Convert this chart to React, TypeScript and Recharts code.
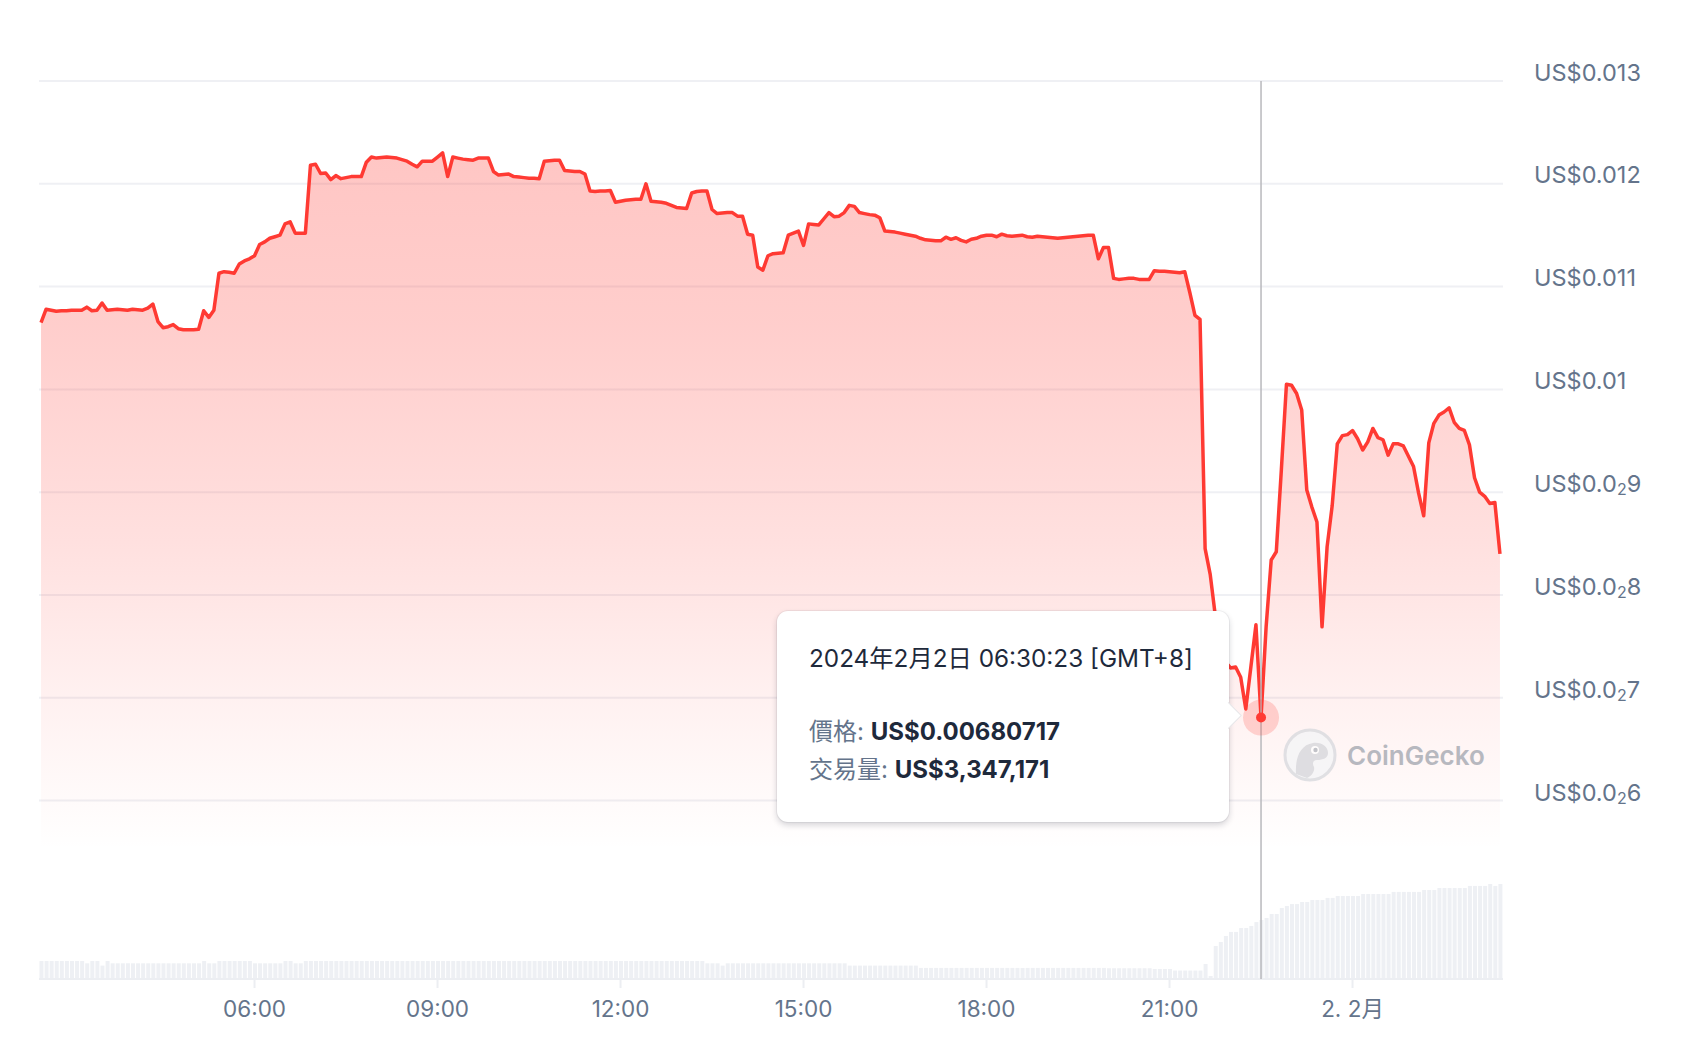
import React from 'react';
import {
  ComposedChart,
  Area,
  Bar,
  XAxis,
  YAxis,
  CartesianGrid,
  Tooltip,
} from 'recharts';

// 5-minute steps, 02:30 -> 02:25 next day (index = step number)
const prices = [
  0.01065, 0.01078, 0.01077, 0.01076, 0.010765, 0.010765, 0.01077, 0.01077, 0.01077, 0.0108, 0.010765, 0.01077,
  0.01084, 0.01077, 0.010775, 0.01078, 0.010775, 0.01077, 0.01078, 0.010775, 0.01077, 0.01079, 0.01083, 0.01066,
  0.0106, 0.01061, 0.01063, 0.01059, 0.01058, 0.01058, 0.01058, 0.010585, 0.010765, 0.0107, 0.01077, 0.01113,
  0.011145, 0.01114, 0.01113, 0.01122, 0.01125, 0.01127, 0.0113, 0.01141, 0.011435, 0.01147, 0.011485, 0.0115,
  0.01161, 0.01163, 0.01152, 0.01152, 0.01152, 0.01218, 0.01219, 0.0121, 0.012105, 0.01204, 0.01208, 0.01205,
  0.01206, 0.01207, 0.01207, 0.01207, 0.01221, 0.01226, 0.01225, 0.012255, 0.01226, 0.012255, 0.01225, 0.012235,
  0.01222, 0.01219, 0.012165, 0.01222, 0.01222, 0.01222, 0.01226, 0.0123, 0.01207, 0.01226, 0.01225, 0.01224,
  0.012235, 0.01223, 0.01225, 0.01225, 0.01225, 0.01212, 0.012085, 0.01209, 0.012095, 0.01207, 0.012065, 0.01206,
  0.012055, 0.012055, 0.01205, 0.01222, 0.012225, 0.01223, 0.01223, 0.01213, 0.012125, 0.01212, 0.01212, 0.012095,
  0.01193, 0.011925, 0.01193, 0.01193, 0.011935, 0.01182, 0.01183, 0.01184, 0.011845, 0.01185, 0.01185, 0.012,
  0.01183, 0.011825, 0.01182, 0.01181, 0.01179, 0.01177, 0.011765, 0.01176, 0.01191, 0.011925, 0.01193, 0.01193,
  0.01175, 0.01171, 0.011715, 0.01172, 0.01172, 0.011685, 0.011685, 0.01151, 0.0115, 0.01119, 0.01116, 0.0113,
  0.01132, 0.011325, 0.01133, 0.0115, 0.01152, 0.01154, 0.0114, 0.01161, 0.011605, 0.0116, 0.01166, 0.01172,
  0.01168, 0.011685, 0.01172, 0.01179, 0.01178, 0.01172, 0.01171, 0.0117, 0.011695, 0.01167, 0.01154, 0.011535,
  0.01153, 0.01152, 0.01151, 0.0115, 0.01149, 0.01147, 0.011455, 0.01145, 0.011445, 0.011445, 0.01148, 0.01146,
  0.011475, 0.01145, 0.011435, 0.01146, 0.01147, 0.01149, 0.0115, 0.0115, 0.011485, 0.01151, 0.011495, 0.01149,
  0.011495, 0.0115, 0.011485, 0.01148, 0.01149, 0.011485, 0.01148, 0.011475, 0.01147, 0.011475, 0.01148, 0.011485,
  0.01149, 0.011495, 0.0115, 0.0115, 0.01127, 0.01138, 0.01138, 0.01108, 0.01107, 0.011075, 0.01108, 0.01108,
  0.01107, 0.01107, 0.01107, 0.011155, 0.01115, 0.01115, 0.011145, 0.01114, 0.011135, 0.011145, 0.01094, 0.01072,
  0.01068, 0.00845, 0.0082, 0.0078, 0.00755, 0.00735, 0.00729, 0.0073, 0.0072, 0.00689, 0.0073, 0.00771,
  0.00680717, 0.00769, 0.00834, 0.00842, 0.00922, 0.01005, 0.01004, 0.00996, 0.0098, 0.00902, 0.008855, 0.00871,
  0.00769, 0.00847, 0.00887, 0.00947, 0.00955, 0.00956, 0.0096, 0.00952, 0.00941, 0.00949, 0.00962, 0.00953,
  0.00951, 0.00936, 0.00947, 0.00947, 0.00945, 0.00935, 0.00925, 0.00899, 0.00877, 0.00948, 0.00967, 0.00975,
  0.00978, 0.00982, 0.00968, 0.00962, 0.0096, 0.00946, 0.00914, 0.009, 0.00896, 0.00889, 0.0089, 0.0084,
];

// volume in millions of USD
const volumes = [
  1.02, 1.02, 1.02, 1.02, 1.02, 1.02, 1.02, 1.02, 1.02, 0.89, 1.02, 1.02,
  0.76, 1.02, 0.89, 0.89, 0.89, 0.89, 0.89, 0.89, 0.89, 0.89, 0.89, 0.89,
  0.89, 0.89, 0.89, 0.89, 0.89, 0.89, 0.89, 0.89, 1.02, 0.89, 0.89, 1.02,
  1.02, 1.02, 1.02, 1.02, 1.02, 1.02, 0.89, 0.89, 0.89, 0.89, 0.89, 0.89,
  1.02, 1.02, 0.89, 0.89, 1.02, 1.02, 1.02, 1.02, 1.02, 1.02, 1.02, 1.02,
  1.02, 1.02, 1.02, 1.02, 1.02, 1.02, 1.02, 1.02, 1.02, 1.02, 1.02, 1.02,
  1.02, 1.02, 1.02, 1.02, 1.02, 1.02, 1.02, 1.02, 1.02, 1.02, 1.02, 1.02,
  1.02, 1.02, 1.02, 1.02, 1.02, 1.02, 1.02, 1.02, 1.02, 1.02, 1.02, 1.02,
  1.02, 1.02, 1.02, 1.02, 1.02, 1.02, 1.02, 1.02, 1.02, 1.02, 1.02, 1.02,
  1.02, 1.02, 1.02, 1.02, 1.02, 1.02, 1.02, 1.02, 1.02, 1.02, 1.02, 1.02,
  1.02, 1.02, 1.02, 1.02, 1.02, 1.02, 1.02, 1.02, 1.02, 1.02, 1.02, 0.89,
  0.89, 0.89, 0.76, 0.89, 0.89, 0.89, 0.89, 0.89, 0.89, 0.89, 0.89, 0.89,
  0.89, 0.89, 0.89, 0.89, 0.89, 0.89, 0.89, 0.89, 0.89, 0.89, 0.89, 0.89,
  0.89, 0.89, 0.89, 0.76, 0.76, 0.76, 0.76, 0.76, 0.76, 0.76, 0.76, 0.76,
  0.76, 0.76, 0.76, 0.76, 0.76, 0.63, 0.63, 0.63, 0.63, 0.63, 0.63, 0.63,
  0.63, 0.63, 0.63, 0.63, 0.63, 0.63, 0.63, 0.63, 0.63, 0.63, 0.63, 0.63,
  0.63, 0.63, 0.63, 0.63, 0.63, 0.63, 0.63, 0.63, 0.63, 0.63, 0.63, 0.63,
  0.63, 0.63, 0.63, 0.63, 0.63, 0.63, 0.61, 0.61, 0.61, 0.61, 0.61, 0.61,
  0.61, 0.61, 0.61, 0.57, 0.57, 0.57, 0.57, 0.48, 0.48, 0.48, 0.48, 0.48,
  0.48, 0.85, 0.17, 1.87, 2.1, 2.44, 2.67, 2.67, 2.89, 2.89, 3.01, 3.23,
  3.347171, 3.46, 3.69, 3.69, 4.03, 4.14, 4.25, 4.25, 4.37, 4.37, 4.48, 4.48,
  4.48, 4.6, 4.6, 4.71, 4.71, 4.71, 4.71, 4.71, 4.82, 4.82, 4.82, 4.82,
  4.82, 4.82, 4.94, 4.94, 4.94, 4.94, 4.94, 4.94, 5.05, 5.05, 5.05, 5.16,
  5.16, 5.16, 5.16, 5.16, 5.16, 5.28, 5.28, 5.28, 5.28, 5.39, 5.28, 5.39,
];

const timeTicks = [42, 78, 114, 150, 186, 222, 258];
const timeTickLabels = ['06:00', '09:00', '12:00', '15:00', '18:00', '21:00', '2. 2月'];

const priceTicks = [0.006, 0.007, 0.008, 0.009, 0.01, 0.011, 0.012, 0.013];
const priceTickLabels = [
  'US$0.0₂6', 'US$0.0₂7', 'US$0.0₂8', 'US$0.0₂9',
  'US$0.01', 'US$0.011', 'US$0.012', 'US$0.013',
];

const hoverIndex = 240;
const hoverTimeLabel = '2024年2月2日 06:30:23 [GMT+8]';

const FONT = "Inter, 'Noto Sans CJK TC', sans-serif";
const RED = '#ff3a33';
const LABEL = '#64748b';

const data = prices.map((price, i) => ({ t: i, price, volume: volumes[i] }));

function PriceTick(props: any) {
  const { x, y, payload } = props;
  const label = priceTickLabels[priceTicks.indexOf(payload.value)] ?? '';
  const [pre, post] = label.split('₂');
  return (
    <text x={x} y={y - 9} dominantBaseline="central" fill={LABEL} fontSize={23.5} fontFamily={FONT}>
      {post === undefined ? (
        pre
      ) : (
        <>
          <tspan>{pre}</tspan>
          <tspan fontSize={16} dy={6}>2</tspan>
          <tspan dy={-6}>{post}</tspan>
        </>
      )}
    </text>
  );
}

function TimeTick(props: any) {
  const { x, y, payload } = props;
  const label = timeTickLabels[timeTicks.indexOf(payload.value)] ?? '';
  return (
    <text x={x} y={y + 20} textAnchor="middle" dominantBaseline="central" fill={LABEL} fontSize={22.5} fontFamily={FONT}>
      {label}
    </text>
  );
}

function HoverBox({ active, payload }: any) {
  if (!active || !payload || !payload.length) return null;
  const row = payload[0].payload;
  return (
    <div
      style={{
        position: 'relative',
        width: 452,
        boxSizing: 'border-box',
        padding: '32px 30px 33px 32px',
        background: '#fff',
        borderRadius: 11,
        boxShadow: '0 3px 6px rgba(15,23,42,0.18), 0 0 0 1px rgba(15,23,42,0.05)',
        fontFamily: FONT,
        fontSize: 24,
        color: '#1e293b',
        whiteSpace: 'nowrap',
      }}
    >
      <div style={{ lineHeight: '30px', fontSize: 24.3 }}>{hoverTimeLabel}</div>
      <div style={{ height: 40 }} />
      <div style={{ lineHeight: '38px' }}>
        <span style={{ color: LABEL }}>價格: </span>
        <b>US${row.price.toFixed(8)}</b>
      </div>
      <div style={{ lineHeight: '38px' }}>
        <span style={{ color: LABEL }}>交易量: </span>
        <b>US${Math.round(row.volume * 1e6).toLocaleString('en-US')}</b>
      </div>
      <div
        style={{
          position: 'absolute',
          right: -9,
          top: 95,
          width: 18,
          height: 18,
          background: '#fff',
          transform: 'rotate(45deg)',
          borderTop: '1px solid rgba(15,23,42,0.1)',
          borderRight: '1px solid rgba(15,23,42,0.1)',
        }}
      />
    </div>
  );
}

function ActiveDot(props: any) {
  const { cx, cy } = props;
  return (
    <g>
      <circle cx={cx} cy={cy} r={18} fill="rgba(255,58,51,0.2)" />
      <circle cx={cx} cy={cy} r={5} fill={RED} />
    </g>
  );
}

function Watermark() {
  return (
    <div
      style={{
        position: 'absolute',
        left: 1283,
        top: 728,
        display: 'flex',
        alignItems: 'center',
        pointerEvents: 'none',
        opacity: 0.75,
      }}
    >
      <svg width={54} height={54} viewBox="0 0 54 54">
        <circle cx={27} cy={27} r={25} fill="#f4f5f7" stroke="#d6d8dd" strokeWidth={3} />
        <path
          d="M13 46 C12 30 17 17 30 15 C39 14 45 19 45 25 C45 30 40 32 34 32 C30 32 29 35 31 39 C32 43 29 48 24 50 Z"
          fill="#d3d5da"
        />
        <circle cx={32} cy={22} r={4} fill="#fff" />
        <circle cx={32.5} cy={22} r={2.2} fill="#aeb2ba" />
      </svg>
      <span
        style={{
          marginLeft: 10,
          fontFamily: FONT,
          fontSize: 26,
          fontWeight: 600,
          color: '#a0a4ad',
        }}
      >
        CoinGecko
      </span>
    </div>
  );
}

export default function App() {
  return (
    <div style={{ position: 'absolute', left: 0, top: 0, width: 1696, height: 1046, background: '#fff' }}>
      <ComposedChart
        width={1696}
        height={1046}
        data={data}
        margin={{ top: 81, right: 0, left: 39, bottom: 27 }}
      >
        <defs>
          <linearGradient id="priceFill" gradientUnits="userSpaceOnUse" x1={0} y1={150} x2={0} y2={850}>
            <stop offset="0%" stopColor={RED} stopOpacity={0.29} />
            <stop offset="25%" stopColor={RED} stopOpacity={0.25} />
            <stop offset="56%" stopColor={RED} stopOpacity={0.157} />
            <stop offset="77%" stopColor={RED} stopOpacity={0.076} />
            <stop offset="100%" stopColor={RED} stopOpacity={0} />
          </linearGradient>
        </defs>
        <CartesianGrid vertical={false} stroke="#eff0f4" strokeWidth={2} yAxisId="price" />
        <XAxis
          dataKey="t"
          type="number"
          domain={[-0.4, 287.6]}
          ticks={timeTicks}
          interval={0}
          height={40}
          tickSize={9}
          tickMargin={0}
          axisLine={{ stroke: '#eceef2', strokeWidth: 2 }}
          tickLine={{ stroke: '#eceef2', strokeWidth: 2 }}
          tick={<TimeTick />}
        />
        <YAxis
          yAxisId="price"
          orientation="right"
          domain={[0.004264, 0.013]}
          ticks={priceTicks}
          interval={0}
          width={193}
          axisLine={false}
          tickLine={false}
          tickSize={0}
          tickMargin={31}
          tick={<PriceTick />}
        />
        <YAxis yAxisId="vol" hide domain={[0, 50.94]} />
        <Tooltip
          defaultIndex={hoverIndex}
          position={{ x: 777, y: 611 }}
          content={<HoverBox />}
          cursor={{ stroke: '#b9b9bd', strokeWidth: 1.5 }}
          isAnimationActive={false}
          wrapperStyle={{ outline: 'none', zIndex: 5 }}
        />
        <Bar yAxisId="vol" dataKey="volume" fill="#eef0f4" barSize={4} isAnimationActive={false} />
        <Area
          yAxisId="price"
          type="linear"
          dataKey="price"
          stroke={RED}
          strokeWidth={3.5}
          strokeLinejoin="round"
          fill="url(#priceFill)"
          fillOpacity={1}
          dot={false}
          activeDot={<ActiveDot />}
          isAnimationActive={false}
        />
      </ComposedChart>
      <Watermark />
    </div>
  );
}
